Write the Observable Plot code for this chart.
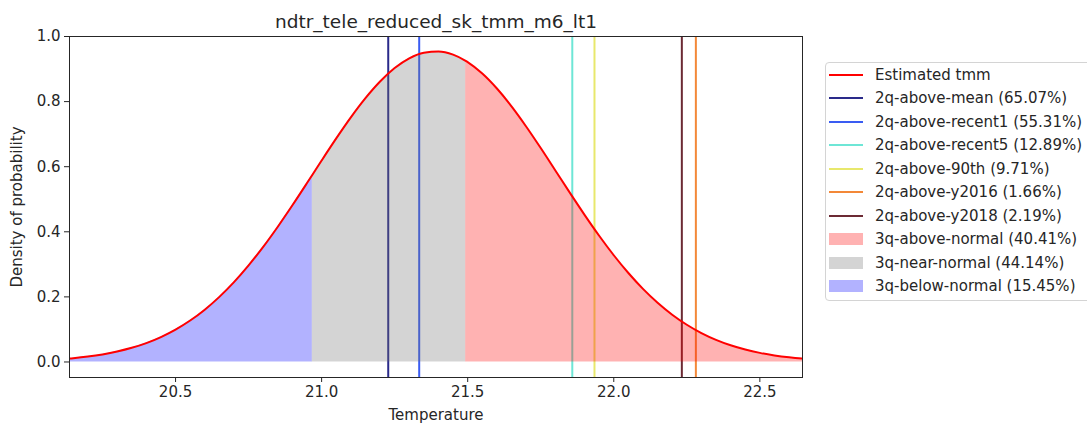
<!DOCTYPE html>
<html><head><meta charset="utf-8">
<script src="https://cdn.jsdelivr.net/npm/d3@7"></script>
<script src="https://cdn.jsdelivr.net/npm/@observablehq/plot@0.6"></script>
<style>
body{margin:0;background:#fff;font-family:"DejaVu Sans",sans-serif;overflow:hidden}
#wrap{position:relative;width:1087px;height:426px}
#legend{position:absolute;left:825px;top:62px;width:272px;height:239px;border:1px solid #d4d4d4;border-radius:4px;box-sizing:border-box;background:#fff}
.row{position:absolute;left:0;height:23px;display:flex;align-items:center;font-size:15px;color:#262626;white-space:nowrap}
.sw{width:34px;margin-left:3px;margin-right:12px}
</style></head><body><div id="wrap"></div>
<script>
const title = "ndtr_tele_reduced_sk_tmm_m6_lt1";
const xLabel = "Temperature";
const yLabel = "Density of probability";
const curveName = "Estimated tmm";
const curveX = [20.10,20.15,20.20,20.25,20.30,20.35,20.40,20.45,20.50,20.55,20.60,20.65,20.70,20.75,20.80,20.85,20.90,20.95,20.968,21.00,21.05,21.10,21.15,21.20,21.25,21.30,21.35,21.40,21.45,21.493,21.50,21.55,21.60,21.65,21.70,21.75,21.80,21.85,21.90,21.95,22.00,22.05,22.10,22.15,22.20,22.25,22.30,22.35,22.40,22.45,22.50,22.55,22.60,22.65,22.70];
const curveY = [0.0082,0.0118,0.0167,0.0233,0.0321,0.0435,0.0581,0.0766,0.0994,0.1273,0.1607,0.2000,0.2453,0.2967,0.3536,0.4156,0.4814,0.5498,0.5747,0.6190,0.6869,0.7515,0.8105,0.8617,0.9031,0.9330,0.9503,0.9541,0.9443,0.9253,0.9213,0.8862,0.8402,0.7854,0.7236,0.6573,0.5885,0.5195,0.4521,0.3878,0.3279,0.2734,0.2246,0.1820,0.1453,0.1144,0.0888,0.0679,0.0512,0.0381,0.0279,0.0202,0.0144,0.0101,0.0070];
const lineNames = ["2q-above-mean (65.07%)","2q-above-recent1 (55.31%)","2q-above-recent5 (12.89%)","2q-above-90th (9.71%)","2q-above-y2016 (1.66%)","2q-above-y2018 (2.19%)"];
const lineValues = [21.228,21.334,21.858,21.934,22.281,22.233];
const lineColors = ["#2a2a8a","#3a5cf2","#6ee6d6","#e8e86c","#f38838","#6c2a34"];
const regionNames = ["3q-above-normal (40.41%)","3q-near-normal (44.14%)","3q-below-normal (15.45%)"];
const regionLo = [21.493,20.968,20.10];
const regionHi = [22.70,21.493,20.968];
const regionColors = ["#ff0000","#707070","#0000ff"];
const xTicks = [20.5,21.0,21.5,22.0,22.5];
const yTicks = [0.0,0.2,0.4,0.6,0.8,1.0];

const curve = curveX.map((x,i)=>({x, y: curveY[i]}));
const lines = lineNames.map((name,i)=>({name, value: lineValues[i], color: lineColors[i]}));
const regions = regionNames.map((name,i)=>({name, lo: regionLo[i], hi: regionHi[i], color: regionColors[i]}));
const regionPts = regions.flatMap(r => curve.filter(p => p.x >= r.lo - 1e-9 && p.x <= r.hi + 1e-9).map(p => ({...p, region: r.name, color: r.color})));

const chart = Plot.plot({
  width: 1087, height: 426,
  marginLeft: 69, marginRight: 285, marginTop: 36, marginBottom: 49,
  style: {fontFamily: "DejaVu Sans, sans-serif", fontSize: "15px", color: "#262626", background: "#fff"},
  x: {domain: [20.137, 22.646]},
  y: {domain: [-0.0477, 1.0]},
  color: {type: "identity"},
  marks: [
    Plot.ruleX(lines, {x: "value", stroke: "color", strokeWidth: 2}),
    ...regions.map(r => Plot.areaY(regionPts.filter(p => p.region === r.name), {x: "x", y: "y", fill: r.color, fillOpacity: 0.3, curve: "monotone-x", clip: true})),
    Plot.line(curve, {x: "x", y: "y", stroke: "#ff0000", strokeWidth: 2, curve: "monotone-x", clip: true}),
    Plot.frame({stroke: "#262626", strokeWidth: 1}),
    Plot.axisX({ticks: xTicks, tickFormat: d3.format(".1f"), tickSize: 5, tickPadding: 4, fontSize: 15, label: xLabel, labelAnchor: "center", labelArrow: "none", labelOffset: 42}),
    Plot.axisY({ticks: yTicks, tickFormat: d3.format(".1f"), tickSize: 5, tickPadding: 4, fontSize: 15, label: yLabel, labelAnchor: "center", labelArrow: "none", labelOffset: 58}),
    Plot.text([title], {text: d => d, frameAnchor: "top", lineAnchor: "middle", dy: -14, fontSize: 18.5, fill: "#262626"})
  ]
});
const wrap = document.getElementById("wrap");
wrap.appendChild(chart);

const legend = document.createElement("div");
legend.id = "legend";
const entries = [{name: curveName, type: "line", color: "#ff0000"}]
  .concat(lines.map(l => ({name: l.name, type: "line", color: l.color})))
  .concat(regions.map(r => ({name: r.name, type: "patch", color: r.color})));
entries.forEach((e, i) => {
  const row = document.createElement("div");
  row.className = "row";
  row.style.top = (0.5 + i * 23.45) + "px";
  const sw = document.createElement("div");
  sw.className = "sw";
  if (e.type === "line") {
    sw.style.height = "2px"; sw.style.background = e.color;
  } else {
    sw.style.height = "12px"; sw.style.background = e.color; sw.style.opacity = 0.3;
  }
  row.appendChild(sw);
  const t = document.createElement("span");
  t.textContent = e.name;
  row.appendChild(t);
  legend.appendChild(row);
});
wrap.appendChild(legend);
</script></body></html>
